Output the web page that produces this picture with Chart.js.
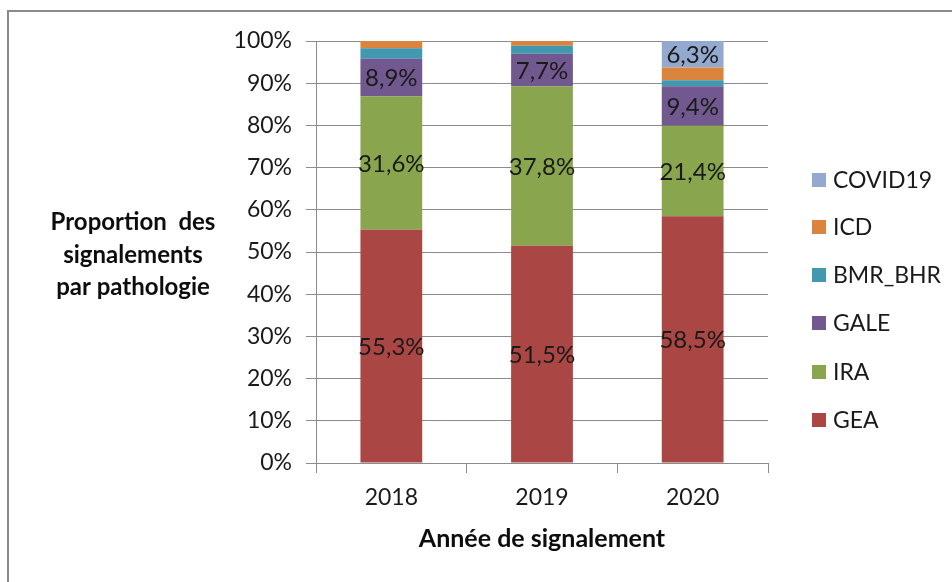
<!DOCTYPE html>
<html>
<head>
<meta charset="utf-8">
<script src="https://cdn.jsdelivr.net/npm/chart.js@4"></script>
<style>
html,body{margin:0;padding:0;background:#fff;}
#wrap{width:952px;height:582px;position:relative;}
</style>
</head>
<body>
<div id="wrap"><canvas id="c" width="952" height="582"></canvas></div>
<script>
const years = ['2018', '2019', '2020'];
const seriesNames = ['GEA', 'IRA', 'GALE', 'BMR_BHR', 'ICD', 'COVID19'];
const GEA = [55.3, 51.5, 58.5];
const IRA = [31.6, 37.8, 21.4];
const GALE = [8.9, 7.7, 9.4];
const BMR_BHR = [2.5, 1.9, 1.4];
const ICD = [1.7, 1.1, 3.0];
const COVID19 = [0, 0, 6.3];
const labelledSeries = ['GEA', 'IRA', 'GALE', 'COVID19'];
const yTicks = [0, 10, 20, 30, 40, 50, 60, 70, 80, 90, 100];
const yTitleLines = ['Proportion  des', 'signalements', 'par pathologie'];
const xTitle = 'Année de signalement';

const colors = {GEA:'#AA4643', IRA:'#89A54E', GALE:'#71588F', BMR_BHR:'#4198AF', ICD:'#DB843D', COVID19:'#93A9CF'};
const values = {GEA, IRA, GALE, BMR_BHR, ICD, COVID19};
const FONT = 'Lato, "Open Sans", sans-serif';

const frame = {
  id:'frame',
  beforeDraw(chart){
    const ctx = chart.ctx;
    ctx.save();
    ctx.strokeStyle = '#8a8a8a';
    ctx.lineWidth = 2;
    ctx.beginPath();
    ctx.moveTo(8, 582); ctx.lineTo(8, 11); ctx.lineTo(952, 11);
    ctx.stroke();
    ctx.restore();
  }
};

const labelsPlugin = {
  id:'labelsPlugin',
  afterDatasetsDraw(chart){
    const ctx = chart.ctx;
    ctx.save();
    ctx.font = '24px ' + FONT;
    ctx.fillStyle = '#1a1a1a';
    ctx.textAlign = 'center';
    ctx.textBaseline = 'middle';
    chart.data.datasets.forEach((ds, i) => {
      if (!labelledSeries.includes(ds.label)) return;
      const meta = chart.getDatasetMeta(i);
      meta.data.forEach((el, j) => {
        const v = ds.data[j];
        if (!v) return;
        const cy = (el.y + el.base) / 2;
        ctx.fillText(v.toFixed(1).replace('.', ',') + '%', el.x, cy + 1);
      });
    });
    // y title
    ctx.font = 'bold 24px ' + FONT;
    ctx.fillStyle = '#0d0d0d';
    const ys = [222, 255, 287];
    yTitleLines.forEach((t, k) => ctx.fillText(t, 133, ys[k]));
    // x title
    const ca = chart.chartArea;
    ctx.font = 'bold 25px ' + FONT;
    ctx.fillText(xTitle, (ca.left + ca.right) / 2, 539);
    // legend
    ctx.textAlign = 'left';
    ctx.font = '23px ' + FONT;
    const order = seriesNames.slice().reverse();
    const ly = [180, 227, 275, 323, 372, 420];
    order.forEach((n, k) => {
      ctx.fillStyle = colors[n];
      ctx.fillRect(812, ly[k] - 7, 14, 14);
      ctx.fillStyle = '#1a1a1a';
      ctx.fillText(n, 833, ly[k] + 1);
    });
    ctx.restore();
  }
};

new Chart(document.getElementById('c'), {
  type: 'bar',
  data: {
    labels: years,
    datasets: seriesNames.map(n => ({
      label: n,
      data: values[n],
      backgroundColor: colors[n],
      borderWidth: 0,
      barPercentage: 0.41,
      categoryPercentage: 1.0
    }))
  },
  options: {
    responsive: false,
    animation: false,
    layout: { padding: { left: 0, top: 41, right: 184, bottom: 0 } },
    plugins: { legend: { display: false }, tooltip: { enabled: false } },
    scales: {
      x: {
        stacked: true,
        afterFit(s){ s.height = 582 - 463; },
        grid: { offset: true, drawOnChartArea: false, drawTicks: true, tickLength: 10, color: '#8c8c8c' },
        border: { display: true, color: '#8c8c8c' },
        ticks: { color: '#1a1a1a', font: { family: FONT, size: 23 }, padding: 11 }
      },
      y: {
        stacked: true,
        min: 0, max: 100,
        afterFit(s){ s.width = 316; },
        afterBuildTicks(s){ s.ticks = yTicks.map(v => ({value: v})); },
        grid: { color: '#8c8c8c', tickLength: 10, drawTicks: true },
        border: { display: true, color: '#8c8c8c' },
        ticks: { color: '#1a1a1a', font: { family: FONT, size: 23 }, padding: 14,
                 callback: v => v + '%' }
      }
    }
  },
  plugins: [frame, labelsPlugin]
});
</script>
</body>
</html>
